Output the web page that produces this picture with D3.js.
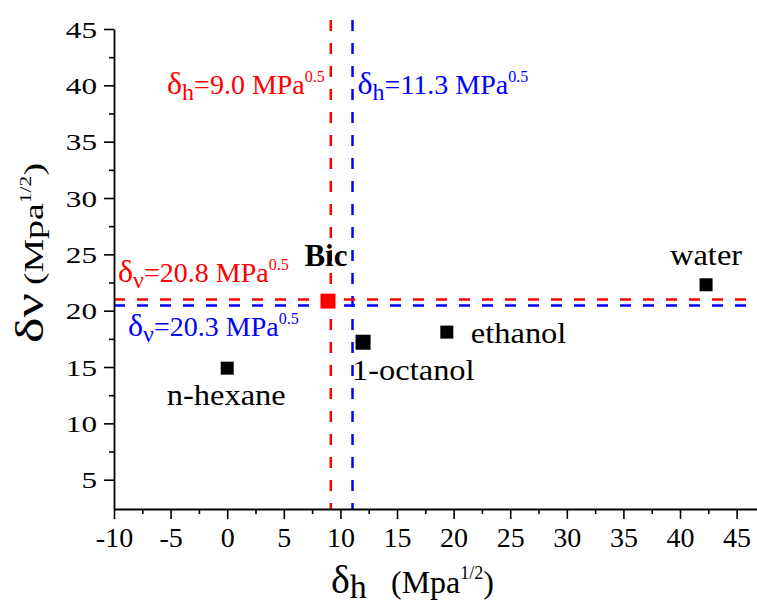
<!DOCTYPE html>
<html>
<head>
<meta charset="utf-8">
<script src="https://cdnjs.cloudflare.com/ajax/libs/d3/7.8.5/d3.min.js"></script>
<style>
  body { margin: 0; background: #fff; }
  svg { display: block; font-family: "Liberation Serif", "Times New Roman", serif; }
</style>
</head>
<body>
<svg id="chart" width="757" height="604"></svg>
<script>
// solvents: delta_h and delta_v (Mpa^1/2)
const solvents = ['n-hexane', '1-octanol', 'ethanol', 'water'];
const solventDh = [0, 12.0, 19.4, 42.3];
const solventDv = [14.9, 17.2, 18.1, 22.3];

// Bic point
const bicName = 'Bic';
const bicDh = 8.9;
const bicDv = 20.85;

// dashed reference lines (red, blue)
const vLineValues = [9.15, 11.07];
const vLineLabels = ['9.0', '11.3'];
const hLineValues = [21.0, 20.45];
const hLineLabels = ['20.8', '20.3'];
const lineColors = ['#ff0000', '#0000ff'];

// ticks
const xTicks = [-10, -5, 0, 5, 10, 15, 20, 25, 30, 35, 40, 45];
const xMinorTicks = [-7.5, -2.5, 2.5, 7.5, 12.5, 17.5, 22.5, 27.5, 32.5, 37.5, 42.5];
const yTicks = [5, 10, 15, 20, 25, 30, 35, 40, 45];
const yMinorTicks = [7.5, 12.5, 17.5, 22.5, 27.5, 32.5, 37.5, 42.5];

const svg = d3.select('#chart');

const x = d3.scaleLinear().domain([-10, 46.8]).range([114, 757]);
const y = d3.scaleLinear().domain([2.4, 45]).range([509, 29]);

// label placement per solvent: [dx, dy, anchor]
const labelPos = {
  'n-hexane': [-1, 37, 'middle'],
  '1-octanol': [-11, 38, 'start'],
  'ethanol': [24, 11, 'start'],
  'water': [0, -20, 'middle']
};
const stretch = 1.12;

// reference lines
const lines = svg.append('g');
vLineValues.forEach((v, i) => {
  lines.append('line')
    .attr('x1', x(v)).attr('x2', x(v))
    .attr('y1', y(45.8)).attr('y2', y(2.4))
    .attr('stroke', lineColors[i])
    .attr('stroke-width', 2.5)
    .attr('stroke-dasharray', '11,12');
});
hLineValues.forEach((v, i) => {
  lines.append('line')
    .attr('x1', x(-10)).attr('x2', x(46.8))
    .attr('y1', y(v)).attr('y2', y(v))
    .attr('stroke', lineColors[i])
    .attr('stroke-width', 2.5)
    .attr('stroke-dasharray', '11,12');
});

// axes
const xAxis = svg.append('g')
  .attr('transform', 'translate(0,' + y(2.4) + ')')
  .call(d3.axisBottom(x).tickValues(xTicks).tickSize(10).tickSizeOuter(0).tickFormat(d => String(d)));
svg.append('g')
  .attr('transform', 'translate(0,' + y(2.4) + ')')
  .call(d3.axisBottom(x).tickValues(xMinorTicks).tickSize(5).tickSizeOuter(0).tickFormat(''))
  .select('.domain').remove();

const yAxis = svg.append('g')
  .attr('transform', 'translate(' + x(-10) + ',0)')
  .call(d3.axisLeft(y).tickValues(yTicks).tickSize(10).tickSizeOuter(0).tickFormat(d => String(d)));
svg.append('g')
  .attr('transform', 'translate(' + x(-10) + ',0)')
  .call(d3.axisLeft(y).tickValues(yMinorTicks).tickSize(5).tickSizeOuter(0).tickFormat(''))
  .select('.domain').remove();

svg.selectAll('.domain').attr('stroke', '#000').attr('stroke-width', 1.8);
svg.selectAll('.tick line').attr('stroke', '#000').attr('stroke-width', 1.6);

xAxis.selectAll('text')
  .attr('y', 38).attr('dy', null)
  .attr('font-family', '"Liberation Serif", serif')
  .attr('font-size', 28).attr('fill', '#000');

yAxis.selectAll('text')
  .attr('x', null).attr('dy', '0.34em')
  .attr('transform', 'translate(-17,0) scale(1.3,1)')
  .attr('font-family', '"Liberation Serif", serif')
  .attr('font-size', 24).attr('fill', '#000');

// solvent points
const pts = svg.append('g');
solvents.forEach((name, i) => {
  const cx = x(solventDh[i]);
  const cy = y(solventDv[i]);
  const s = name === '1-octanol' ? 15 : 13;
  pts.append('rect')
    .attr('x', cx - s / 2).attr('y', cy - s / 2)
    .attr('width', s).attr('height', s)
    .attr('fill', '#000');
  const p = labelPos[name];
  pts.append('text')
    .attr('transform', 'translate(' + (cx + p[0]) + ',' + (cy + p[1]) + ') scale(' + stretch + ',1)')
    .attr('text-anchor', p[2])
    .attr('font-size', 29)
    .attr('fill', '#000')
    .text(name);
});

// Bic point
pts.append('rect')
  .attr('x', x(bicDh) - 7.5).attr('y', y(bicDv) - 7.5)
  .attr('width', 15).attr('height', 15)
  .attr('fill', '#ff0000');
pts.append('text')
  .attr('x', x(bicDh) - 2).attr('y', y(bicDv) - 35)
  .attr('text-anchor', 'middle')
  .attr('font-size', 31).attr('font-weight', 'bold')
  .attr('fill', '#000')
  .text(bicName);

// annotation text: delta_sub = value MPa^0.5
function annot(g, sub, val, color) {
  const t = g.append('text').attr('fill', color).attr('font-size', 28);
  t.append('tspan').attr('font-size', 32).text('δ');
  t.append('tspan').attr('font-size', 24).attr('dy', 6).text(sub);
  t.append('tspan').attr('dy', -6).text('=' + val + ' MPa');
  t.append('tspan').attr('font-size', 16).attr('dy', -12).text('0.5');
  return t;
}

const ann = svg.append('g');
annot(ann, 'h', vLineLabels[0], lineColors[0])
  .attr('x', x(vLineValues[0]) - 6).attr('y', 94).attr('text-anchor', 'end');
annot(ann, 'h', vLineLabels[1], lineColors[1])
  .attr('x', x(vLineValues[1]) + 5).attr('y', 94);
annot(ann, 'ν', hLineLabels[0], lineColors[0])
  .attr('x', x(-10) + 4).attr('y', y(hLineValues[0]) - 17);
annot(ann, 'ν', hLineLabels[1], lineColors[1])
  .attr('x', x(-10) + 14).attr('y', y(hLineValues[1]) + 30);

// axis titles
const xt = svg.append('text').attr('x', 331).attr('y', 593).attr('fill', '#000');
xt.append('tspan').attr('font-size', 40).text('δ');
xt.append('tspan').attr('font-size', 34).attr('dy', 5).text('h');
xt.append('tspan').attr('x', 391).attr('dy', -5).attr('font-size', 32).text('(Mpa');
xt.append('tspan').attr('font-size', 18).attr('dy', -14).text('1/2');
xt.append('tspan').attr('font-size', 32).attr('dy', 14).text(')');

const yt = svg.append('text')
  .attr('transform', 'translate(43,343) rotate(-90) scale(1.35,1)')
  .attr('text-anchor', 'start')
  .attr('fill', '#000');
yt.append('tspan').attr('font-size', 40).text('δν');
yt.append('tspan').attr('font-size', 28).attr('dx', 6).text('(Mpa');
yt.append('tspan').attr('font-size', 16).attr('dy', -12).text('1/2');
yt.append('tspan').attr('font-size', 28).attr('dy', 12).text(')');
</script>
</body>
</html>
